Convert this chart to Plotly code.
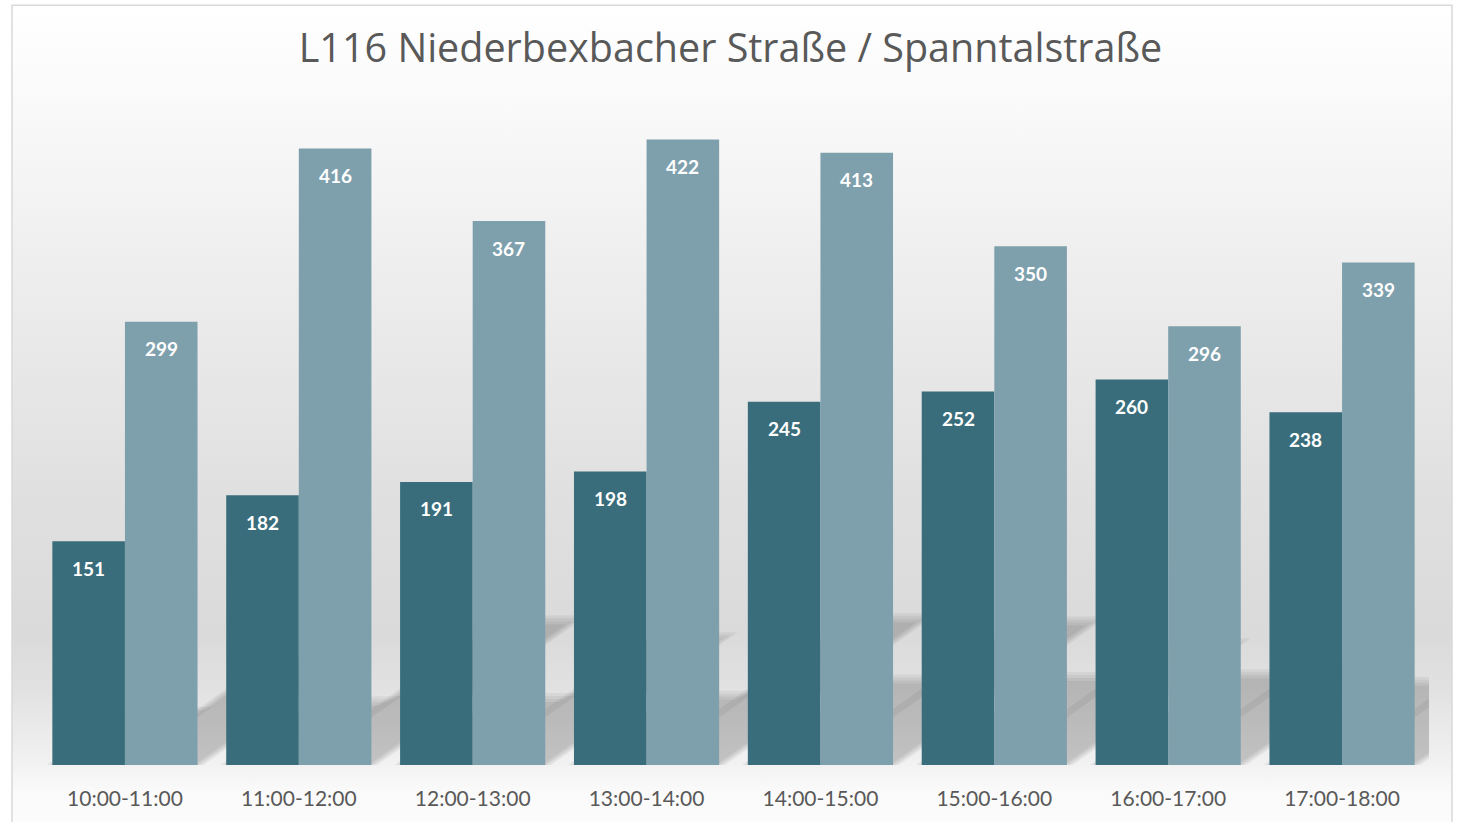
import base64
import plotly.graph_objects as go

# Hourly traffic counts at the L116 Niederbexbacher Straße / Spanntalstraße junction
categories = ["10:00-11:00", "11:00-12:00", "12:00-13:00", "13:00-14:00",
              "14:00-15:00", "15:00-16:00", "16:00-17:00", "17:00-18:00"]
series_a = [151, 182, 191, 198, 245, 252, 260, 238]
series_b = [299, 416, 367, 422, 413, 350, 296, 339]

W, H = 1461, 822
M_L, M_R, M_T, M_B = 38, 32, 98, 55
Y_MAX = 450
BARGAP = 0.165

plot_w = W - M_L - M_R
plot_h = H - M_T - M_B
px_per_y = plot_h / Y_MAX
px_per_x = plot_w / len(categories)
bar_w = (1 - BARGAP) / 2


def paper_x(px):
    return (px - M_L) / plot_w


def paper_y(py):
    return (H - M_B - py) / plot_h


# soft grey backdrop behind the chart
stops = [(0.00, "#ffffff"), (0.11, "#fafafa"), (0.35, "#ececec"), (0.59, "#e0e0e0"),
         (0.76, "#dadada"), (0.83, "#e2e2e2"), (0.918, "#f2f2f2"), (0.95, "#fafafa"),
         (1.00, "#fcfcfc")]
stop_xml = "".join(f'<stop offset="{o}" stop-color="{c}"/>' for o, c in stops)
svg = (f'<svg xmlns="http://www.w3.org/2000/svg" width="1440" height="830">'
       f'<defs><linearGradient id="g" x1="0" y1="0" x2="0" y2="1">{stop_xml}</linearGradient></defs>'
       f'<rect width="1440" height="830" fill="url(#g)"/></svg>')
bg_src = "data:image/svg+xml;base64," + base64.b64encode(svg.encode()).decode()

fig = go.Figure()

dark = "#396d7b"
light = "#7ea0ad"

fig.add_trace(go.Bar(x=categories, y=series_a, marker=dict(color=dark, line=dict(width=0)),
                     hoverinfo="x+y", name="a"))
fig.add_trace(go.Bar(x=categories, y=series_b, marker=dict(color=light, line=dict(width=0)),
                     hoverinfo="x+y", name="b"))

# slanted, soft drop shadows cast by each bar onto the backdrop
SHADOW_K = 0.233      # shadow height relative to bar height
SHADOW_SLANT = 1.4    # horizontal px per vertical px
shapes = []
layers = [6, 3, 0, -3]
for idx, vals in enumerate([series_a, series_b]):
    for i, v in enumerate(vals):
        x0 = i - bar_w if idx == 0 else i
        x1 = x0 + bar_w
        for e in layers:
            h_px = SHADOW_K * v * px_per_y + e
            if h_px <= 0:
                continue
            h = h_px / px_per_y
            s = h_px * SHADOW_SLANT / px_per_x
            ex = e / px_per_x
            path = (f"M {x0 - ex} 0 L {x0 - ex + s} {h} L {x1 + ex + s} {h} "
                    f"L {x1 + ex} 0 Z")
            shapes.append(dict(type="path", path=path, xref="x", yref="y",
                               fillcolor="rgba(0,0,0,0.05)", line=dict(width=0),
                               layer="below"))

# chart frame
shapes.append(dict(type="rect", xref="paper", yref="paper",
                   x0=paper_x(12), x1=paper_x(1452), y0=paper_y(5), y1=paper_y(840),
                   line=dict(color="#d9d9d9", width=1.5), fillcolor="rgba(0,0,0,0)",
                   layer="above"))

# value labels inside the top of each bar
annotations = []
for idx, vals in enumerate([series_a, series_b]):
    for i, v in enumerate(vals):
        xc = i - bar_w / 2 if idx == 0 else i + bar_w / 2
        annotations.append(dict(x=xc, y=v, xref="x", yref="y", text=str(v),
                                showarrow=False, yshift=-27,
                                font=dict(family="Lato", size=19, color="#ffffff",
                                          weight="bold")))

fig.update_layout(
    width=W, height=H,
    margin=dict(l=M_L, r=M_R, t=M_T, b=M_B),
    paper_bgcolor="#ffffff",
    plot_bgcolor="rgba(0,0,0,0)",
    barmode="group", bargap=BARGAP, bargroupgap=0,
    showlegend=False,
    title=dict(text="L116 Niederbexbacher Straße / Spanntalstraße",
               x=0.5, xanchor="center", y=1 - 48 / H, yanchor="middle", yref="container",
               font=dict(family="Open Sans", size=39.5, color="#595959")),
    xaxis=dict(range=[-0.5, len(categories) - 0.5], autorange=False,
               showgrid=False, zeroline=False, showline=False, ticks="",
               ticklabelstandoff=19,
               tickfont=dict(family="Lato", size=21, color="#595959")),
    yaxis=dict(range=[0, Y_MAX], autorange=False, visible=False,
               showgrid=False, zeroline=False),
    images=[dict(source=bg_src, xref="paper", yref="paper",
                 x=paper_x(12), y=paper_y(5), sizex=1440 / plot_w, sizey=830 / plot_h,
                 xanchor="left", yanchor="top", sizing="stretch", layer="below")],
    shapes=shapes,
    annotations=annotations,
)

fig.write_html("out.html")
